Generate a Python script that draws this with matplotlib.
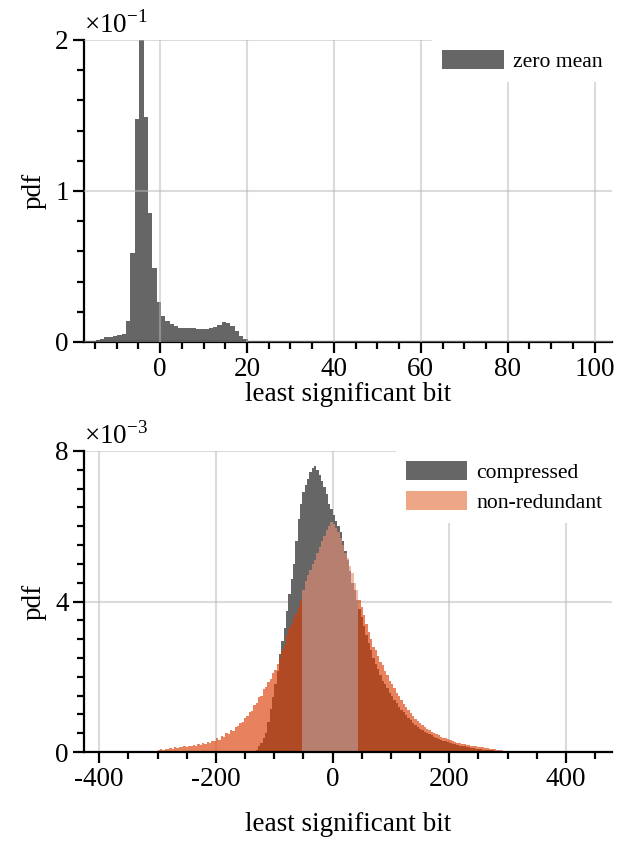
import numpy as np
import matplotlib
matplotlib.use("Agg")
import matplotlib.pyplot as plt
from matplotlib.ticker import MultipleLocator, FixedLocator, FuncFormatter
from matplotlib.patches import Patch

plt.rcParams['font.family'] = ['Liberation Serif', 'DejaVu Serif']
plt.rcParams['mathtext.fontset'] = 'custom'
plt.rcParams['mathtext.rm'] = 'Liberation Serif'
plt.rcParams['axes.unicode_minus'] = False

# ---------------- data: top panel (zero mean) ----------------
top_bin_left = np.arange(-14.8, 21.0, 1.0)   # bin left edges, width 1
top_pdf = [0.0011, 0.0018, 0.0033, 0.0036, 0.0040, 0.0047, 0.0056, 0.0140,
           0.0589, 0.1480, 0.2000, 0.1490, 0.0856, 0.0487, 0.0267, 0.0173,
           0.0140, 0.0120, 0.0107, 0.0096, 0.0096, 0.0096, 0.0091, 0.0089,
           0.0089, 0.0089, 0.0096, 0.0102, 0.0113, 0.0133, 0.0127, 0.0107,
           0.0073, 0.0042, 0.0018, 0.0007]

# ---------------- data: bottom panel ----------------
bot_centers = np.arange(-298, 299, 4)          # bin centres, width 4
nonred_pdf_e3 = [
    0.05, 0.07, 0.06, 0.09, 0.08, 0.11, 0.09, 0.12, 0.10, 0.14,
    0.12, 0.15, 0.14, 0.17, 0.15, 0.19, 0.17, 0.21, 0.19, 0.24,
    0.22, 0.27, 0.25, 0.30, 0.28, 0.36, 0.33, 0.42, 0.40, 0.50,
    0.47, 0.58, 0.55, 0.66, 0.68, 0.77, 0.80, 0.90, 0.95, 1.05,
    1.10, 1.25, 1.30, 1.45, 1.50, 1.68, 1.72, 1.85, 1.95, 2.10,
    2.18, 2.35, 2.50, 2.70, 2.85, 3.10, 3.30, 3.40, 3.55, 3.70,
    3.85, 4.05, 4.30, 4.55, 4.70, 4.85, 5.00, 5.10, 5.30, 5.45,
    5.60, 5.75, 5.90, 6.00, 6.10, 6.05, 5.95, 5.85, 5.70, 5.50,
    5.30, 5.15, 4.95, 4.75, 4.50, 4.30, 4.05, 3.85, 3.65, 3.40,
    3.20, 3.00, 2.80, 2.70, 2.55, 2.40, 2.30, 2.15, 2.05, 1.90,
    1.80, 1.70, 1.58, 1.48, 1.38, 1.28, 1.20, 1.12, 1.04, 0.96,
    0.88, 0.82, 0.76, 0.72, 0.66, 0.62, 0.58, 0.54, 0.50, 0.47,
    0.44, 0.41, 0.38, 0.36, 0.34, 0.31, 0.29, 0.27, 0.25, 0.24,
    0.22, 0.21, 0.19, 0.18, 0.17, 0.16, 0.15, 0.14, 0.13, 0.12,
    0.11, 0.10, 0.09, 0.08, 0.07, 0.06, 0.05, 0.04, 0.03, 0.02]
compressed_pdf_e3 = [
    0.00, 0.00, 0.00, 0.00, 0.00, 0.00, 0.00, 0.00, 0.00, 0.00,
    0.00, 0.00, 0.00, 0.00, 0.00, 0.00, 0.00, 0.00, 0.00, 0.00,
    0.00, 0.00, 0.00, 0.00, 0.00, 0.00, 0.00, 0.00, 0.00, 0.00,
    0.00, 0.00, 0.00, 0.00, 0.00, 0.00, 0.00, 0.00, 0.00, 0.00,
    0.00, 0.00, 0.05, 0.15, 0.25, 0.38, 0.50, 0.80, 1.15, 1.45,
    1.80, 2.15, 2.60, 2.95, 3.30, 3.75, 4.20, 4.60, 5.00, 5.60,
    6.20, 6.60, 6.90, 7.10, 7.25, 7.45, 7.55, 7.60, 7.50, 7.35,
    7.20, 7.05, 6.85, 6.60, 6.45, 6.30, 6.15, 6.00, 5.85, 5.60,
    5.35, 5.10, 4.80, 4.50, 4.30, 4.05, 3.80, 3.60, 3.35, 3.10,
    2.90, 2.70, 2.50, 2.35, 2.20, 2.05, 1.90, 1.80, 1.70, 1.58,
    1.48, 1.38, 1.30, 1.20, 1.12, 1.05, 0.98, 0.90, 0.84, 0.78,
    0.72, 0.67, 0.62, 0.58, 0.54, 0.50, 0.47, 0.44, 0.40, 0.37,
    0.35, 0.32, 0.30, 0.28, 0.26, 0.24, 0.22, 0.20, 0.19, 0.17,
    0.16, 0.15, 0.13, 0.12, 0.11, 0.10, 0.09, 0.08, 0.07, 0.06,
    0.06, 0.05, 0.04, 0.04, 0.03, 0.03, 0.02, 0.02, 0.01, 0.01]

nonred_pdf = np.array(nonred_pdf_e3) * 1e-3
compressed_pdf = np.array(compressed_pdf_e3) * 1e-3

# ---------------- figure ----------------
W, H = 633, 841
fig = plt.figure(figsize=(W / 100, H / 100), dpi=100)
ax1 = fig.add_axes([84 / W, 1 - 342 / H, 528 / W, 302 / H])
ax2 = fig.add_axes([84 / W, 1 - 752 / H, 528 / W, 301 / H])

FS = 19.5
LFS = 15.6
GRAY = '#666666'

def style(ax, xlabelpad):
    for s in ('top', 'right'):
        ax.spines[s].set_visible(False)
    for s in ('left', 'bottom'):
        ax.spines[s].set_linewidth(1.6)
    ax.tick_params(which='major', direction='out', length=8, width=1.6,
                   labelsize=FS, pad=3)
    ax.tick_params(which='minor', direction='out', length=5, width=1.6)
    ax.tick_params(axis='y', pad=3)
    ax.set_xlabel('least significant bit', fontsize=FS, labelpad=xlabelpad)
    ax.set_ylabel('pdf', fontsize=FS, labelpad=6)

# top panel
ax1.bar(top_bin_left, top_pdf, width=1.0, align='edge', color=GRAY,
        linewidth=0, label='zero mean', zorder=1)
ax1.set_xlim(-17.5, 104)
ax1.set_ylim(0, 0.2)
ax1.xaxis.set_major_locator(FixedLocator([0, 20, 40, 60, 80, 100]))
ax1.xaxis.set_minor_locator(MultipleLocator(5))
ax1.yaxis.set_major_locator(FixedLocator([0, 0.1, 0.2]))
ax1.yaxis.set_major_formatter(FuncFormatter(lambda v, p: f"{v * 10:g}"))
ax1.yaxis.set_minor_locator(MultipleLocator(0.02))
ax1.set_axisbelow(False)
ax1.grid(which='major', color='#b8b8b8', alpha=0.5, linewidth=1.5)
style(ax1, xlabelpad=0)
ax1.text(0.0, 1.005, r'×10$^{\mathregular{-1}}$', transform=ax1.transAxes,
         fontsize=FS, ha='left', va='bottom')
leg1 = ax1.legend(loc='upper right', fontsize=LFS, frameon=True,
                  fancybox=False, framealpha=1, edgecolor='white',
                  borderaxespad=0, handlelength=2.85, handleheight=1.0,
                  handletextpad=0.4, borderpad=0.45)
leg1.get_frame().set_linewidth(0)

# bottom panel
center_mask = (bot_centers > -52) & (bot_centers < 44)
nonred_colors = np.where(center_mask, '#e88f76', '#dc3a00')
ax2.bar(bot_centers, compressed_pdf, width=4.0, color=GRAY, linewidth=0,
        zorder=1)
ax2.bar(bot_centers, nonred_pdf, width=4.0, color=nonred_colors, alpha=0.63,
        linewidth=0, zorder=1.1)
ax2.set_xlim(-426, 479)
ax2.set_ylim(0, 8e-3)
ax2.xaxis.set_major_locator(FixedLocator([-400, -200, 0, 200, 400]))
ax2.xaxis.set_minor_locator(MultipleLocator(50))
ax2.yaxis.set_major_locator(FixedLocator([0, 4e-3, 8e-3]))
ax2.yaxis.set_major_formatter(FuncFormatter(lambda v, p: f"{v * 1e3:g}"))
ax2.yaxis.set_minor_locator(MultipleLocator(0.5e-3))
ax2.set_axisbelow(True)
ax2.grid(which='major', color='#b8b8b8', alpha=0.5, linewidth=1.5)
style(ax2, xlabelpad=14)
ax2.text(0.0, 1.005, r'×10$^{\mathregular{-3}}$', transform=ax2.transAxes,
         fontsize=FS, ha='left', va='bottom')
handles = [Patch(facecolor=GRAY, linewidth=0),
           Patch(facecolor='#eda686', linewidth=0)]
leg2 = ax2.legend(handles, ['compressed', 'non-redundant'], loc='upper right',
                  fontsize=LFS, frameon=True, fancybox=False, framealpha=1,
                  edgecolor='white', borderaxespad=0, handlelength=2.85,
                  handleheight=1.0, handletextpad=0.4, borderpad=0.45,
                  labelspacing=0.37)
leg2.get_frame().set_linewidth(0)

fig.savefig('out.png', dpi=100)
